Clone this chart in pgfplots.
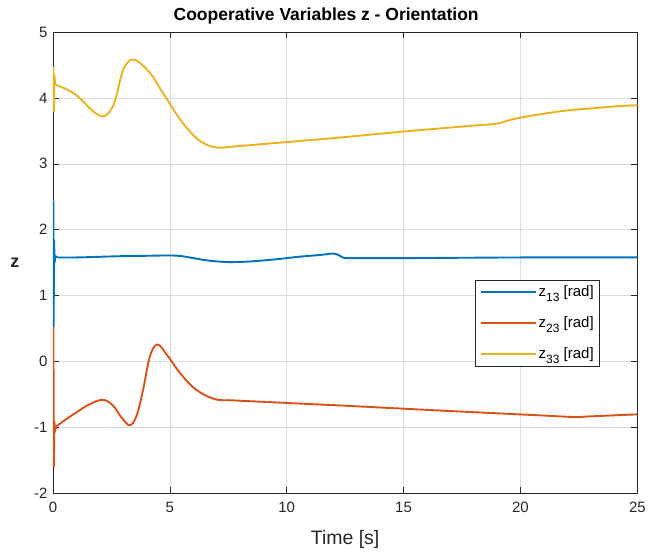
\documentclass[border=0pt]{standalone}
\usepackage{fontspec}
\setmainfont{Liberation Sans}
\usepackage{pgfplots}
\pgfplotsset{compat=1.18}
\definecolor{mblue}{rgb}{0,0.447,0.741}
\definecolor{morange}{rgb}{0.85,0.325,0.098}
\definecolor{myellow}{rgb}{0.929,0.694,0.125}
\definecolor{axgray}{rgb}{0.15,0.15,0.15}
\newcommand{\sub}[1]{\raisebox{-4.5pt}{\fontsize{12}{12}\selectfont #1}}
\begin{document}
\begin{tikzpicture}
\begin{axis}[
  scale only axis,
  width=585pt, height=462pt,
  xmin=0, xmax=25, ymin=-2, ymax=5,
  xtick={0,5,10,15,20,25},
  ytick={-2,-1,0,1,2,3,4,5},
  /pgf/number format/assume math mode=true,
  tick label style={font=\fontsize{15}{15}\selectfont, text=axgray},
  xticklabel style={yshift=-5pt},
  yticklabel style={xshift=-2pt},
  tick align=inside,
  major tick length=6pt,
  tick style={axgray, line width=0.6pt},
  axis line style={axgray, line width=0.6pt},
  grid=major,
  major grid style={gray!28, line width=0.6pt},
  xlabel={Time [s]},
  xlabel style={at={(axis description cs:0.5,0)}, anchor=center, yshift=-46pt, font=\fontsize{19.5}{19.5}\selectfont, text=axgray},
  ylabel={\textbf{z}},
  ylabel style={at={(axis description cs:-0.065,0.5)}, anchor=center, rotate=-90, font=\fontsize{18}{18}\selectfont, text=axgray},
  title={\textbf{Cooperative Variables z - Orientation}},
  title style={at={(axis description cs:0.5,1)}, anchor=base, yshift=5pt, xshift=-19pt, font=\fontsize{17.5}{17.5}\selectfont, text=black},
  legend style={at={(axis description cs:0.723,0.463)}, anchor=north west, draw=axgray, line width=0.6pt, font=\fontsize{15}{15}\selectfont, row sep=14.5pt, inner sep=4pt},
  legend cell align=left,
  legend image code/.code={\draw[#1, line width=2pt] (0pt,0.3pt) -- (55pt,0.3pt);},
]
% spikes
\addplot[mblue, line width=1.9pt, forget plot] coordinates {
(0.01,1.58)(0.015,2.45)(0.03,0.53)(0.05,1.85)(0.07,1.5)(0.1,1.6)(0.2,1.58)
};
\addplot[morange, line width=1.9pt, forget plot] coordinates {
(0.02,0.52)(0.04,-1.6)(0.06,-0.9)(0.09,-1.05)(0.15,-0.98)
};
\addplot[myellow, line width=1.9pt, forget plot] coordinates {
(0.01,4.0)(0.02,4.47)(0.04,3.79)(0.06,4.35)(0.1,4.2)
};
\addplot[mblue, line width=1.9pt, smooth, tension=0.6] coordinates {
(0.2,1.58)(1,1.58)(2,1.59)(3,1.6)(4,1.605)(5,1.61)(5.5,1.6)(6,1.57)(6.5,1.54)(7,1.52)(7.5,1.51)(8,1.512)(8.5,1.52)(9,1.535)(9.5,1.55)(10,1.57)(10.5,1.59)(11,1.605)(11.5,1.62)(12,1.64)(12.2,1.62)(12.4,1.58)(12.6,1.57)(13.5,1.57)(15,1.57)(17.5,1.575)(20,1.58)(22.5,1.58)(25,1.58)
};
\addlegendentry{z\sub{13} [rad]}
\addplot[morange, line width=1.9pt, smooth, tension=0.6] coordinates {
(0.15,-0.98)(0.5,-0.89)(1,-0.77)(1.58,-0.645)(2.15,-0.58)(2.58,-0.67)(2.94,-0.85)(3.29,-0.965)(3.58,-0.82)(3.86,-0.42)(4.15,0.08)(4.47,0.26)(4.86,0.11)(5.43,-0.17)(6.0,-0.39)(6.57,-0.52)(7.07,-0.58)(7.5,-0.585)(8,-0.593)(9,-0.61)(10,-0.627)(11,-0.644)(12,-0.66)(13,-0.678)(14,-0.696)(15,-0.714)(16,-0.732)(17,-0.75)(18,-0.767)(19,-0.784)(20,-0.801)(21,-0.818)(22.3,-0.84)(23,-0.83)(24,-0.815)(25,-0.8)
};
\addlegendentry{z\sub{23} [rad]}
\addplot[myellow, line width=1.9pt, smooth, tension=0.6] coordinates {
(0.1,4.2)(0.4,4.16)(0.8,4.09)(1.2,3.98)(1.58,3.84)(1.9,3.75)(2.15,3.72)(2.4,3.78)(2.65,3.95)(3.0,4.42)(3.36,4.58)(3.72,4.53)(4.22,4.35)(4.57,4.15)(4.93,3.95)(5.29,3.75)(5.71,3.55)(6.14,3.39)(6.57,3.29)(7.07,3.245)(7.5,3.255)(8,3.27)(9,3.3)(10,3.33)(11,3.36)(12,3.39)(13,3.423)(14,3.457)(15,3.49)(16,3.52)(17,3.55)(18,3.58)(19,3.61)(19.5,3.66)(20,3.7)(21,3.76)(22,3.81)(23,3.84)(24,3.87)(25,3.89)
};
\addlegendentry{z\sub{33} [rad]}
\end{axis}
\useasboundingbox ([xshift=-53pt,yshift=-64pt]current axis.south west) rectangle ([xshift=11pt,yshift=32pt]current axis.north east);
\end{tikzpicture}
\end{document}
